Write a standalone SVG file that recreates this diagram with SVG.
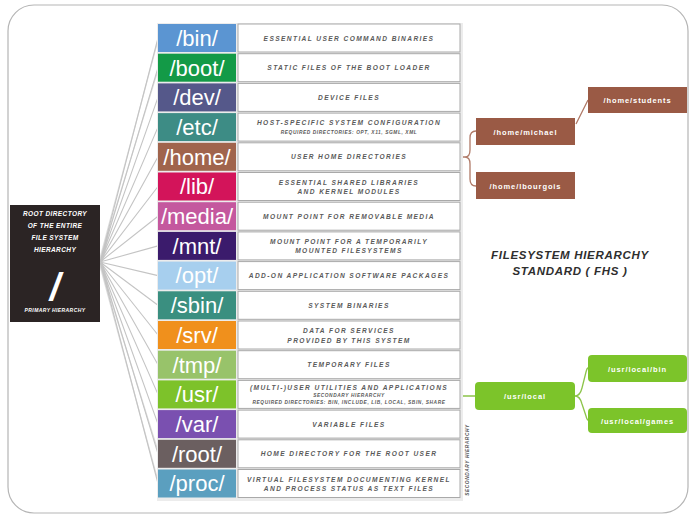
<svg xmlns="http://www.w3.org/2000/svg" width="691" height="518" viewBox="0 0 691 518">
<defs>
<style>
.lbl{font-family:"Liberation Sans",Arial,sans-serif;font-size:22px;fill:#fff;text-anchor:middle}
.desc{font-family:"Liberation Sans",Arial,sans-serif;font-size:6.6px;font-weight:bold;font-style:italic;fill:#5a5a5a;text-anchor:middle;letter-spacing:1.4px}
.small{font-size:4.8px;letter-spacing:0.6px}
.cell{fill:#fff;stroke:#a9a9a9;stroke-width:1}
.fan{stroke:#c4c4c4;stroke-width:1.1;fill:none}
.conn{fill:none;stroke-width:1.3}
.box{font-family:"Liberation Sans",Arial,sans-serif;font-size:7.5px;font-weight:bold;fill:#fff;text-anchor:middle;letter-spacing:0.9px}
.root{font-family:"Liberation Sans",Arial,sans-serif;font-weight:bold;font-style:italic;fill:#fff;text-anchor:middle}
.title{font-family:"Liberation Sans",Arial,sans-serif;font-size:11.5px;font-weight:bold;font-style:italic;fill:#2e2e2e;text-anchor:middle;letter-spacing:0.7px}
</style>
</defs>
<rect x="8" y="5" width="680" height="508" rx="26" fill="#fff" stroke="#b5b5b5" stroke-width="1.2"/>

<g id="connectors">
<path class="fan" d="M100,262 L158,38 M100,262 L158,67.7 M100,262 L158,97.4 M100,262 L158,127.1 M100,262 L158,156.8 M100,262 L158,186.5 M100,262 L158,216.2 M100,262 L158,245.9 M100,262 L158,275.6 M100,262 L158,305.3 M100,262 L158,335 M100,262 L158,364.7 M100,262 L158,394.4 M100,262 L158,424.1 M100,262 L158,453.8 M100,262 L158,483.5"/>
<path class="fan" stroke-opacity="0.6" d="M100,258 L158,40 M100,266 L158,481 M100,259 L158,70 M100,265 L158,451"/>
<path class="conn" stroke="#b07a68" d="M460,157 H465 Q470,157 470,150 V138 Q470,131 476,131 M465,157 Q470,157 470,164 V179 Q470,186 476,186 M576,124 L588,100"/>
<path class="conn" stroke="#8cc44a" d="M460,396 H475 M575,396 Q580,396 582,388 L586,372 Q587,368 588,368 M575,396 Q580,396 582,404 L586,416 Q587,420 588,420"/>
</g>

<g id="root">
<rect x="10" y="205" width="90" height="117" fill="#2b2424"/>
<text class="root" x="55" y="216" font-size="6.5" letter-spacing="0.4">ROOT DIRECTORY</text>
<text class="root" x="55" y="228" font-size="6.5" letter-spacing="0.4">OF THE ENTIRE</text>
<text class="root" x="55" y="240" font-size="6.5" letter-spacing="0.4">FILE SYSTEM</text>
<text class="root" x="55" y="252" font-size="6.5" letter-spacing="0.4">HIERARCHY</text>
<text class="root" x="55" y="300" font-size="38" font-style="normal" font-weight="normal">/</text>
<text class="root" x="55" y="312" font-size="5" letter-spacing="0.4">PRIMARY HIERARCHY</text>
</g>

<g id="table-shadow"><rect x="157" y="23" width="306" height="478" fill="#ececec"/></g>

<g id="row-bin"><rect x="158" y="24" width="78" height="28" fill="#5b95d2"/><rect class="cell" x="238" y="24" width="222" height="28"/><text class="lbl" x="197" y="45.8">/bin/</text><text class="desc" x="349" y="40.5">ESSENTIAL USER COMMAND BINARIES</text></g>
<g id="row-boot"><rect x="158" y="53.7" width="78" height="28" fill="#139a47"/><rect class="cell" x="238" y="53.7" width="222" height="28"/><text class="lbl" x="197" y="75.5">/boot/</text><text class="desc" x="349" y="70.2">STATIC FILES OF THE BOOT LOADER</text></g>
<g id="row-dev"><rect x="158" y="83.4" width="78" height="28" fill="#55588a"/><rect class="cell" x="238" y="83.4" width="222" height="28"/><text class="lbl" x="197" y="105.2">/dev/</text><text class="desc" x="349" y="99.9">DEVICE FILES</text></g>
<g id="row-etc"><rect x="158" y="113.1" width="78" height="28" fill="#3d8c85"/><rect class="cell" x="238" y="113.1" width="222" height="28"/><text class="lbl" x="197" y="134.9">/etc/</text><text class="desc" x="349" y="124.6">HOST-SPECIFIC SYSTEM CONFIGURATION</text><text class="desc small" x="349" y="134">REQUIRED DIRECTORIES: OPT, X11, SGML, XML</text></g>
<g id="row-home"><rect x="158" y="142.8" width="78" height="28" fill="#a0644c"/><rect class="cell" x="238" y="142.8" width="222" height="28"/><text class="lbl" x="197" y="164.6">/home/</text><text class="desc" x="349" y="159.3">USER HOME DIRECTORIES</text></g>
<g id="row-lib"><rect x="158" y="172.5" width="78" height="28" fill="#d3145a"/><rect class="cell" x="238" y="172.5" width="222" height="28"/><text class="lbl" x="197" y="194.3">/lib/</text><text class="desc" x="349" y="184.5">ESSENTIAL SHARED LIBRARIES</text><text class="desc" x="349" y="194">AND KERNEL MODULES</text></g>
<g id="row-media"><rect x="158" y="202.2" width="78" height="28" fill="#c4589e"/><rect class="cell" x="238" y="202.2" width="222" height="28"/><text class="lbl" x="197" y="224">/media/</text><text class="desc" x="349" y="218.7">MOUNT POINT FOR REMOVABLE MEDIA</text></g>
<g id="row-mnt"><rect x="158" y="231.9" width="78" height="28" fill="#3b1b6c"/><rect class="cell" x="238" y="231.9" width="222" height="28"/><text class="lbl" x="197" y="253.7">/mnt/</text><text class="desc" x="349" y="243.9">MOUNT POINT FOR A TEMPORARILY</text><text class="desc" x="349" y="253.4">MOUNTED FILESYSTEMS</text></g>
<g id="row-opt"><rect x="158" y="261.6" width="78" height="28" fill="#a7cfee"/><rect class="cell" x="238" y="261.6" width="222" height="28"/><text class="lbl" x="197" y="283.4">/opt/</text><text class="desc" x="349" y="278.1">ADD-ON APPLICATION SOFTWARE PACKAGES</text></g>
<g id="row-sbin"><rect x="158" y="291.3" width="78" height="28" fill="#3a8f80"/><rect class="cell" x="238" y="291.3" width="222" height="28"/><text class="lbl" x="197" y="313.1">/sbin/</text><text class="desc" x="349" y="307.8">SYSTEM BINARIES</text></g>
<g id="row-srv"><rect x="158" y="321" width="78" height="28" fill="#f0901c"/><rect class="cell" x="238" y="321" width="222" height="28"/><text class="lbl" x="197" y="342.8">/srv/</text><text class="desc" x="349" y="333">DATA FOR SERVICES</text><text class="desc" x="349" y="342.5">PROVIDED BY THIS SYSTEM</text></g>
<g id="row-tmp"><rect x="158" y="350.7" width="78" height="28" fill="#98c36a"/><rect class="cell" x="238" y="350.7" width="222" height="28"/><text class="lbl" x="197" y="372.5">/tmp/</text><text class="desc" x="349" y="367.2">TEMPORARY FILES</text></g>
<g id="row-usr"><rect x="158" y="380.4" width="78" height="28" fill="#7dc22a"/><rect class="cell" x="238" y="380.4" width="222" height="28"/><text class="lbl" x="197" y="402.2">/usr/</text><text class="desc" x="349" y="389.5" letter-spacing="0.9">(MULTI-)USER UTILITIES AND APPLICATIONS</text><text class="desc small" x="349" y="396.5">SECONDARY HIERARCHY</text><text class="desc small" x="349" y="404">REQUIRED DIRECTORIES: BIN, INCLUDE, LIB, LOCAL, SBIN, SHARE</text></g>
<g id="row-var"><rect x="158" y="410.1" width="78" height="28" fill="#7a50b0"/><rect class="cell" x="238" y="410.1" width="222" height="28"/><text class="lbl" x="197" y="431.9">/var/</text><text class="desc" x="349" y="426.6">VARIABLE FILES</text></g>
<g id="row-root"><rect x="158" y="439.8" width="78" height="28" fill="#6b5f60"/><rect class="cell" x="238" y="439.8" width="222" height="28"/><text class="lbl" x="197" y="461.6">/root/</text><text class="desc" x="349" y="456.3">HOME DIRECTORY FOR THE ROOT USER</text></g>
<g id="row-proc"><rect x="158" y="469.5" width="78" height="28" fill="#5b9fbf"/><rect class="cell" x="238" y="469.5" width="222" height="28"/><text class="lbl" x="197" y="491.3">/proc/</text><text class="desc" x="349" y="481.5" letter-spacing="1">VIRTUAL FILESYSTEM DOCUMENTING KERNEL</text><text class="desc" x="349" y="491">AND PROCESS STATUS AS TEXT FILES</text></g>

<g id="side-note"><text class="desc small" fill="#444" transform="translate(469,460) rotate(-90)">SECONDARY HIERARCHY</text></g>

<g id="home-michael"><rect x="476" y="118" width="99" height="27" fill="#9a5a45"/><text class="box" x="525.5" y="134.5">/home/michael</text></g>
<g id="home-lisa"><rect x="476" y="172" width="99" height="27" fill="#9a5a45"/><text class="box" x="525.5" y="188.5">/home/lbourgois</text></g>
<g id="home-students"><rect x="588" y="87" width="99" height="26" fill="#9a5a45"/><text class="box" x="637.5" y="103">/home/students</text></g>

<g id="usr-local"><rect x="475" y="382" width="100" height="28" rx="4" fill="#7cc42a"/><text class="box" x="525" y="399">/usr/local</text></g>
<g id="usr-local-bin"><rect x="588" y="355" width="99" height="27" rx="4" fill="#7cc42a"/><text class="box" x="637.5" y="371.5">/usr/local/bin</text></g>
<g id="usr-local-games"><rect x="588" y="408" width="99" height="25" rx="4" fill="#7cc42a"/><text class="box" x="637.5" y="423.5">/usr/local/games</text></g>

<g id="title">
<text class="title" x="570" y="259">FILESYSTEM HIERARCHY</text>
<text class="title" x="570" y="275">STANDARD ( FHS )</text>
</g>
</svg>
